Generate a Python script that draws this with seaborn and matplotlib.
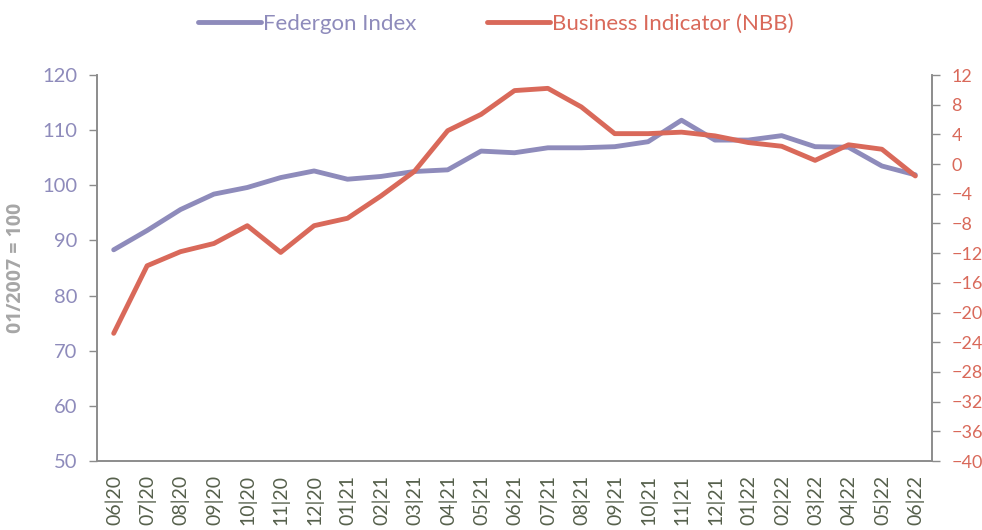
import numpy as np
import pandas as pd
import seaborn as sns
import matplotlib.pyplot as plt
import matplotlib.ticker as ticker

months = ['06|20', '07|20', '08|20', '09|20', '10|20', '11|20', '12|20',
          '01|21', '02|21', '03|21', '04|21', '05|21', '06|21', '07|21',
          '08|21', '09|21', '10|21', '11|21', '12|21', '01|22', '02|22',
          '03|22', '04|22', '05|22', '06|22']
federgon = [88.3, 91.8, 95.6, 98.4, 99.6, 101.4, 102.6, 101.1, 101.6, 102.5,
            102.8, 106.2, 105.9, 106.8, 106.8, 107.0, 107.9, 111.8, 108.2,
            108.2, 109.0, 107.0, 106.9, 103.5, 101.9]
business = [-22.8, -13.7, -11.8, -10.7, -8.3, -11.9, -8.3, -7.3, -4.3, -1.0,
            4.5, 6.7, 9.9, 10.2, 7.7, 4.1, 4.1, 4.3, 3.8, 2.9, 2.4, 0.5, 2.6,
            2.0, -1.6]

purple = '#8e8bbb'
red = '#d9695a'
grey = '#8c8c8c'

sns.set_style('white')
plt.rcParams['font.family'] = ['Lato', 'DejaVu Sans']

df = pd.DataFrame({'idx': np.arange(len(months)), 'Federgon': federgon,
                   'Business': business})

fig = plt.figure(figsize=(9.82, 5.3), dpi=100)
ax = fig.add_axes([97 / 982, 1 - 461 / 530, 835 / 982, 386 / 530])
ax2 = ax.twinx()

sns.lineplot(data=df, x='idx', y='Federgon', ax=ax, color=purple,
             linewidth=3.5, label='Federgon Index', legend=False)
sns.lineplot(data=df, x='idx', y='Business', ax=ax2, color=red,
             linewidth=3.5, label='Business Indicator (NBB)', legend=False)

ax.set_xlim(-0.5, len(months) - 0.5)
ax.set_ylim(50, 120)
ax.set_yticks(range(50, 121, 10))
ax2.set_ylim(-40, 12)
ax2.set_yticks(range(-40, 13, 4))

ax.set_xticks(np.arange(len(months)))
ax.set_xticklabels(months, rotation=90, fontsize=14, color='#56604c')
ax.xaxis.set_minor_locator(ticker.FixedLocator(np.arange(-0.5, len(months), 1)))
ax.tick_params(axis='x', which='major', length=0, pad=10)
ax.tick_params(axis='x', which='minor', length=6, color=grey, width=1, direction='out')
ax.tick_params(axis='y', length=6, color=grey, width=1, direction='out',
               labelcolor=purple, labelsize=14.5, pad=8)
ax2.tick_params(axis='y', length=6, color=grey, width=1, direction='out',
                labelcolor=red, labelsize=13, pad=8)

ax.set_xlabel('')
ax.set_ylabel('01/2007 = 100', color='#a6a6a6', fontsize=14, fontweight='bold',
              family=['Open Sans', 'DejaVu Sans'], labelpad=12)
ax2.set_ylabel('')

for a in (ax, ax2):
    a.spines['top'].set_visible(False)
    for s in ('left', 'right', 'bottom'):
        a.spines[s].set_color(grey)
        a.spines[s].set_linewidth(1.2)

h1, l1 = ax.get_legend_handles_labels()
h2, l2 = ax2.get_legend_handles_labels()
leg = fig.legend(h1 + h2, l1 + l2, loc='upper center', ncol=2, frameon=False,
                 fontsize=16, bbox_to_anchor=(0.505, 1.012), handlelength=2.8,
                 handletextpad=0.1, columnspacing=3.2)
for txt, c in zip(leg.get_texts(), [purple, red]):
    txt.set_color(c)

fig.savefig('out.png', dpi=100)
